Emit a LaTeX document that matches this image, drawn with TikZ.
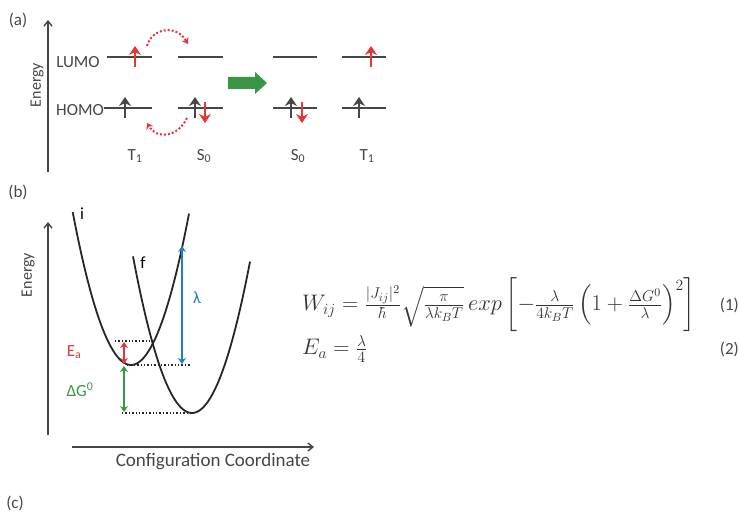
\documentclass[tikz,border=0pt]{standalone}
\usepackage{fontspec}
\setmainfont{Carlito}
\usepackage{amsmath}
\usepackage{graphicx}
\usetikzlibrary{arrows.meta}
\definecolor{myred}{RGB}{232,52,52}
\definecolor{mygreen}{RGB}{58,150,70}
\definecolor{myblue}{RGB}{35,125,195}
\definecolor{mygray}{RGB}{70,70,70}
\begin{document}
\begin{tikzpicture}[x=1pt,y=-1pt,
  lbl/.style={font=\fontsize{17}{19}\selectfont, text=mygray, inner sep=0pt},
  level/.style={draw=mygray, line width=1.8pt},
  spinup/.style={line width=2.4pt, -{Stealth[width=12pt,length=9pt,inset=3pt]}},
  axis/.style={draw=mygray, line width=1.4pt, -{Straight Barb[width=8pt,length=5pt]}},
  hop/.style={myred, line width=2pt, dotted, -{Stealth[width=8pt,length=6pt]}},
  curve/.style={line width=1.8pt, black!85},
  dots/.style={line width=1.4pt, dotted, black!85},
  dbl/.style={line width=2pt, {Stealth[width=8pt,length=6pt]}-{Stealth[width=8pt,length=6pt]}},
  eqn/.style={anchor=west, inner sep=0pt, text=black!80, font=\fontsize{22}{26}\selectfont}]
\useasboundingbox (0,0) rectangle (739,513);
% ---------- (a) ----------
\node[lbl] (la) at (18,20) {(a)};
\coordinate (ea0) at (48,172);
\coordinate (ea1) at (48,20);
\draw[axis] (ea0) -- (ea1);
\node[lbl, rotate=90, font=\fontsize{16}{18}\selectfont] (enA) at (37,85) {Energy};
\node[lbl] (lumo) at (78,62) {LUMO};
\node[lbl] (homo) at (80,110) {HOMO};
% levels
\coordinate (L1a) at (107,57); \coordinate (L1b) at (152,57);
\coordinate (L2a) at (178,57); \coordinate (L2b) at (223,57);
\coordinate (L3a) at (273,57); \coordinate (L3b) at (317,57);
\coordinate (L4a) at (342,57); \coordinate (L4b) at (386,57);
\coordinate (H1a) at (homo.east |- 0,108); \coordinate (H1b) at (152,108);
\coordinate (H2a) at (178,108); \coordinate (H2b) at (223,108);
\coordinate (H3a) at (273,108); \coordinate (H3b) at (317,108);
\coordinate (H4a) at (342,108); \coordinate (H4b) at (386,108);
\draw[level] (L1a) -- (L1b);
\draw[level] (L2a) -- (L2b);
\draw[level] (L3a) -- (L3b);
\draw[level] (L4a) -- (L4b);
\draw[level] (H1a) -- (H1b);
\draw[level] (H2a) -- (H2b);
\draw[level] (H3a) -- (H3b);
\draw[level] (H4a) -- (H4b);
% spins
\draw[spinup, myred] (135,67) -- (135,46);
\draw[spinup, mygray] (125,118) -- (125,97);
\draw[spinup, mygray] (195,118) -- (195,97);
\draw[spinup, myred] (205,102) -- (205,123);
\draw[spinup, mygray] (291,118) -- (291,97);
\draw[spinup, myred] (302,102) -- (302,123);
\draw[spinup, mygray] (359,118) -- (359,97);
\draw[spinup, myred] (371,67) -- (371,46);
% hopping arrows
\coordinate (hs1) at (147,46); \coordinate (he1) at (188,44);
\coordinate (hs2) at (187,118); \coordinate (he2) at (147,123);
\draw[hop] (hs1) .. controls (152,28) and (176,24) .. (he1);
\draw[hop] (hs2) .. controls (178,137) and (157,140) .. (he2);
% green block arrow
\fill[mygreen] (228,77) -- (255,77) -- (255,72) -- (267,83) -- (255,94) -- (255,89) -- (228,89) -- cycle;
% state labels
\node[lbl] (t1a) at (135,156) {T\textsubscript{1}};
\node[lbl] (s0a) at (204,156) {S\textsubscript{0}};
\node[lbl] (s0b) at (298,156) {S\textsubscript{0}};
\node[lbl] (t1b) at (367,156) {T\textsubscript{1}};
% ---------- (b) ----------
\node[lbl] (lb) at (18,192) {(b)};
\coordinate (eb0) at (48,435);
\coordinate (eb1) at (48,222);
\draw[axis] (eb0) -- (eb1);
\coordinate (cx0) at (72,447);
\coordinate (cx1) at (314,447);
\draw[axis] (cx0) -- (cx1);
\node[lbl, rotate=90, font=\fontsize{16}{18}\selectfont] (enB) at (28,275) {Energy};
\node[lbl, font=\fontsize{19}{21}\selectfont] (cc) at (213,462) {Configuration Coordinate};
% parabolas
\draw[curve] plot[domain=72.7:189, samples=80] (\x, {365-0.045*(\x-131)^2});
\draw[curve] plot[domain=133:250, samples=80] (\x, {413-0.045*(\x-192)^2});
\node[lbl, text=black] (ilab) at (82,214) {i};
\node[lbl, text=black] (flab) at (143,263) {f};
% dotted levels
\coordinate (d1a) at (115,341); \coordinate (d1b) at (153,341);
\coordinate (d2a) at (127,365); \coordinate (d2b) at (190,365);
\coordinate (d3a) at (122,413); \coordinate (d3b) at (188,413);
\draw[dots] (d1a) -- (d1b);
\draw[dots] (d2a) -- (d2b);
\draw[dots] (d3a) -- (d3b);
% energy arrows
\coordinate (ea) at (124,342); \coordinate (eb) at (124,364);
\coordinate (ga) at (124,366); \coordinate (gb) at (124,412);
\coordinate (la1) at (182,246); \coordinate (la2) at (182,364);
\draw[dbl, myred] (ea) -- (eb);
\draw[dbl, mygreen] (ga) -- (gb);
\draw[dbl, myblue, line width=1.6pt] (la1) -- (la2);
\node[lbl, text=myred] (ealab) at (74,352) {E\textsubscript{a}};
\node[lbl, text=mygreen] (dglab) at (80,390) {ΔG\textsuperscript{0}};
\node[lbl, text=myblue] (lamlab) at (197,298) {λ};
% equations
\node[eqn] (eq1) at (302,305)
  {\scalebox{1.085}{$W_{ij}=\frac{|J_{ij}|^2}{\hbar}\sqrt{\frac{\pi}{\lambda k_BT}}\,exp\left[-\frac{\lambda}{4k_BT}\left(1+\frac{\Delta G^0}{\lambda}\right)^2\right]$}};
\node[lbl, anchor=east] (n1) at (739,305) {(1)};
\node[eqn] (eq2) at (302,349) {\scalebox{1.085}{$E_a=\frac{\lambda}{4}$}};
\node[lbl, anchor=east] (n2) at (739,349) {(2)};
% ---------- (c) ----------
\node[lbl] (lc) at (15,503) {(c)};
\end{tikzpicture}
\end{document}
